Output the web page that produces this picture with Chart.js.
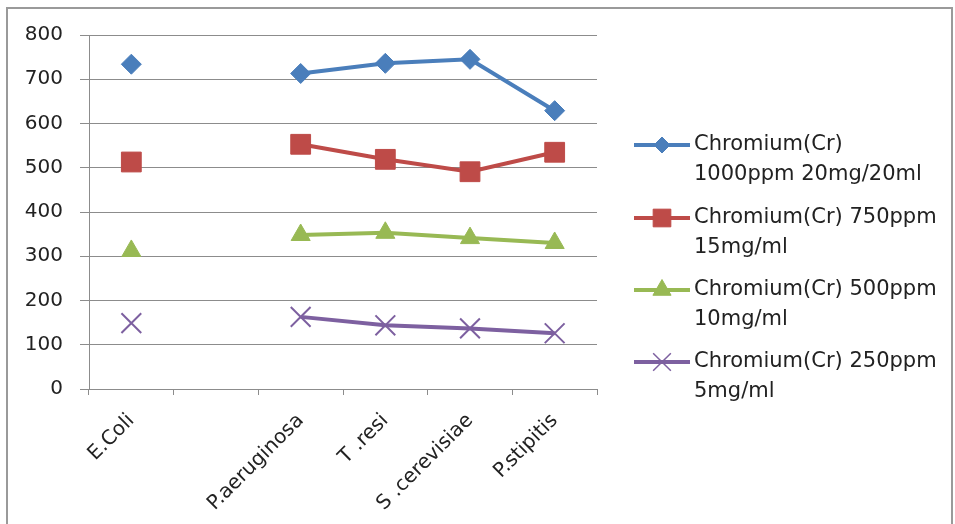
<!DOCTYPE html>
<html>
<head>
<meta charset="utf-8">
<script src="https://cdn.jsdelivr.net/npm/chart.js@4"></script>
<style>
html,body{margin:0;padding:0;background:#fff}
</style>
</head>
<body>
<canvas id="chart" width="955" height="524"></canvas>
<script>
// categories along the x axis (second slot is empty in the original)
const categories=["E.Coli","","P.aeruginosa","T .resi","S .cerevisiae","P.stipitis"]

// series values
const cr1000=[734,null,713,736,745,629]
const cr750=[513,null,553,519,491,535]
const cr500=[312,null,348,353,341,330]
const cr250=[149,null,163,144,137,126]

const seriesNames=[
["Chromium(Cr)","1000ppm 20mg/20ml"],
["Chromium(Cr) 750ppm","15mg/ml"],
["Chromium(Cr) 500ppm","10mg/ml"],
["Chromium(Cr) 250ppm","5mg/ml"]
]

const yTicks=[0,100,200,300,400,500,600,700,800]

const FONT="'DejaVu Sans', sans-serif"

function series(i,data,color,style,radius){
return {
label:seriesNames[i].join(" "),
data:data,
borderColor:color,
backgroundColor:color,
pointBackgroundColor:color,
pointBorderColor:color,
borderWidth:4,
pointStyle:style,
pointRadius:radius,
pointHoverRadius:radius,
pointBorderWidth:style==="crossRot"?2:1,
spanGaps:false,
tension:0
}
}

// legend marker sizes (smaller than in the plot)
const legendRadius={rectRot:8,rect:12.5,triangle:10.5,crossRot:12.5}

// frame round the whole picture
const framePlugin={
id:"frame",
beforeDraw(chart){
const c=chart.ctx
c.save()
c.strokeStyle="#9a9a9a"
c.lineWidth=2
c.strokeRect(7,8,945,540)
c.restore()
}
}

// legend drawn on the right, with two-line labels
const legendPlugin={
id:"sideLegend",
afterDraw(chart){
const c=chart.ctx
const rows=[145,218,290,362]
c.save()
chart.data.datasets.forEach((ds,i)=>{
const y=rows[i]
c.strokeStyle=ds.borderColor
c.lineWidth=4
c.beginPath()
c.moveTo(634,y)
c.lineTo(690,y)
c.stroke()
c.fillStyle=ds.pointBackgroundColor
c.strokeStyle=ds.pointBorderColor
c.lineWidth=ds.pointStyle==="crossRot"?1.5:1
Chart.helpers.drawPoint(c,{pointStyle:ds.pointStyle,radius:legendRadius[ds.pointStyle],rotation:0,borderWidth:c.lineWidth},662,y)
c.fillStyle="#222"
c.font="21px "+FONT
c.textBaseline="middle"
c.textAlign="left"
seriesNames[i].forEach((t,k)=>c.fillText(t,694,y+k*30))
})
c.restore()
}
}

const ctx=document.getElementById("chart").getContext("2d")

const chart=new Chart(ctx,{
type:"line",
data:{
labels:categories,
datasets:[
series(0,cr1000,"#4a7ebb","rectRot",10),
series(1,cr750,"#be4b48","rect",14),
series(2,cr500,"#98b954","triangle",11),
series(3,cr250,"#7d60a0","crossRot",14)
]
},
options:{
responsive:false,
animation:false,
devicePixelRatio:1,
layout:{padding:{left:9,top:35,right:358,bottom:0}},
plugins:{
legend:{display:false},
tooltip:{enabled:false}
},
scales:{
x:{
type:"category",
offset:true,
grid:{
display:true,
offset:true,
drawOnChartArea:false,
drawTicks:true,
tickLength:6,
color:"#8c8c8c",
lineWidth:1
},
border:{display:true,color:"#8c8c8c",width:1},
ticks:{
autoSkip:false,
maxRotation:45,
minRotation:45,
padding:14,
color:"#222",
font:{family:FONT,size:20}
},
afterFit(s){s.height=135}
},
y:{
min:0,
max:800,
afterBuildTicks(s){s.ticks=yTicks.map(v=>({value:v}))},
grid:{
color:"#8c8c8c",
lineWidth:1,
tickLength:9
},
border:{display:true,color:"#8c8c8c",width:1},
ticks:{
padding:17,
color:"#222",
font:{family:FONT,size:20}
},
afterFit(s){s.width=80}
}
}
},
plugins:[framePlugin,legendPlugin]
})
</script>
</body>
</html>
